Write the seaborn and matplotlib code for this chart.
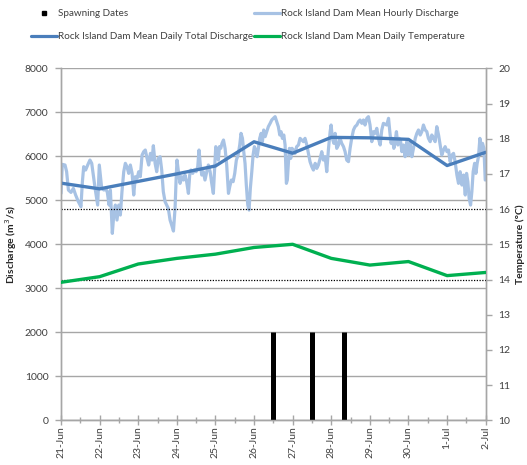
import numpy as np
import pandas as pd
import matplotlib
matplotlib.use("Agg")
import matplotlib.pyplot as plt
from matplotlib.lines import Line2D
from matplotlib.ticker import MultipleLocator
import seaborn as sns

sns.set_style("white")
plt.rcParams['font.family'] = ['Lato', 'DejaVu Sans']

# ---------------- data ----------------
date_labels = ["21-Jun", "22-Jun", "23-Jun", "24-Jun", "25-Jun", "26-Jun",
               "27-Jun", "28-Jun", "29-Jun", "30-Jun", "1-Jul", "2-Jul"]
daily_total_discharge = [5390, 5260, 5430, 5600, 5780, 6330,
                         6070, 6430, 6420, 6385, 5790, 6090]
daily_temperature = [13.92, 14.08, 14.44, 14.60, 14.72, 14.91,
                     15.00, 14.60, 14.41, 14.51, 14.11, 14.20]
spawning_days = [5.5, 6.5, 7.33]
spawning_height = [2000, 2000, 2000]
temperature_thresholds = [14, 16]

# (hour since 21-Jun 00:00, discharge m3/s)
hourly_discharge = [
    (0, 5157), (0.8, 5817), (2.5, 5802), (3.5, 5650), (4.6, 5233), (6.2, 5180),
    (7.7, 5271), (9.1, 5120), (10.8, 4968), (12.4, 4854), (13.3, 5423), (14.1, 5764),
    (15.3, 5688), (16.6, 5802), (18.0, 5915), (19.1, 5840), (20.1, 5574), (21.2, 5271),
    (22.8, 4892), (23.8, 5802), (25.3, 5271), (26.7, 5233), (27.8, 5271), (28.8, 5180),
    (29.9, 4892), (30.7, 5233), (31.9, 4248), (32.8, 4665), (33.8, 4892), (34.8, 4551),
    (35.9, 4892), (36.9, 4665), (37.9, 5196), (39.0, 5650), (40.0, 5840), (41.0, 5764),
    (42.1, 5612), (43.1, 5802), (44.2, 5612), (45.2, 5120), (46.2, 5537), (47.3, 5499),
    (48.3, 5650), (49.3, 5537), (50.4, 6029), (51.4, 6105), (52.4, 6143), (53.5, 5953),
    (54.5, 5802), (55.6, 6067), (56.6, 5915), (57.4, 6241), (58.5, 5840), (59.5, 5650),
    (60.5, 5953), (61.6, 5991), (62.6, 5688), (63.6, 5196),
    (64.7, 4968), (65.7, 4892), (66.7, 4816), (67.8, 4551), (68.8, 4437), (69.9, 4301),
    (70.9, 4816), (71.5, 5423), (72.1, 5915), (73.0, 5650), (74.0, 5385), (75.0, 5537),
    (76.1, 5461), (77.1, 5574), (78.1, 5423), (79.2, 5157), (80.0, 5574), (80.8, 5688),
    (81.9, 5612), (82.9, 5688), (84.0, 5650), (85.0, 5764), (85.8, 6143), (86.6, 5802),
    (87.5, 5574), (88.5, 5650), (89.5, 5461), (90.6, 5650), (91.6, 5802), (92.7, 5650),
    (93.7, 5385), (94.7, 5157), (95.4, 5650), (96.2, 6219), (97.2, 6105), (97.8, 5915),
    (98.5, 6219), (99.3, 6181), (100.1, 6295), (101.0, 6370), (102.0, 6181), (103.0, 5802),
    (104.1, 5157), (104.9, 5310), (105.9, 5461), (107.0, 5423), (108.0, 5612), (109.0, 5915),
    (110.1, 6029), (111.1, 6257), (111.9, 6522), (112.8, 6408), (113.6, 6105), (114.4, 5840),
    (115.2, 5347), (116.1, 4892), (116.9, 4778), (117.7, 5271), (118.6, 5650), (119.4, 6029),
    (120.2, 6219), (121.1, 6143), (121.9, 5991), (122.7, 6181), (123.5, 6408), (124.4, 6522),
    (125.2, 6333), (126.0, 6598), (126.9, 6446), (127.9, 6560), (128.9, 6674), (130.0, 6749),
    (131.0, 6825), (132.0, 6863),
    (133.1, 6901), (134.1, 6787), (135.1, 6674), (136.0, 6484), (136.8, 6560), (137.6, 6408),
    (138.5, 6484), (139.3, 6257), (140.1, 5385), (140.7, 5461), (141.4, 5878), (142.0, 6181),
    (142.8, 5953), (143.6, 6181), (144.5, 6143), (145.5, 6067), (146.5, 6219), (147.6, 6257),
    (148.6, 6408), (149.7, 6370), (150.7, 6333), (151.7, 6408), (152.8, 6257), (153.8, 6067),
    (154.8, 5878), (155.9, 5764), (156.9, 5688), (158.0, 5840), (159.0, 5726), (160.0, 5802),
    (161.1, 5953), (162.1, 6105), (163.1, 5915), (164.2, 5991), (165.2, 5650), (166.2, 6143),
    (167.3, 6560), (167.9, 6711), (168.7, 6408), (169.6, 6295), (170.4, 6522), (171.4, 6181),
    (172.5, 6257), (173.5, 6408), (174.5, 6295), (175.6, 6219), (176.6, 6105), (177.6, 5915),
    (178.7, 5878), (179.7, 6181), (180.7, 6408), (181.8, 6598), (182.8, 6674), (183.9, 6711),
    (184.9, 6787), (185.9, 6825), (187.0, 6749), (188.0, 6825), (189.0, 6711), (190.1, 6863),
    (191.1, 6901), (192.1, 6711), (193.2, 6333), (194.2, 6560), (195.3, 6522), (196.3, 6636),
    (197.3, 6408), (198.4, 6257), (199.4, 6598), (200.4, 6749),
    (202.5, 6711), (203.6, 6863), (204.4, 6560), (205.2, 6295), (206.1, 6408), (206.9, 6181),
    (207.7, 6333), (208.5, 6560), (209.4, 6257), (210.2, 6408), (211.0, 6370), (211.9, 6105),
    (212.9, 6257), (213.9, 5991), (215.0, 6333), (216.0, 6029), (217.0, 6295), (218.1, 5991),
    (219.1, 6181), (220.2, 6408), (221.2, 6522), (222.2, 6598), (223.3, 6484), (224.3, 6560),
    (225.3, 6711), (226.4, 6598), (227.4, 6560), (228.4, 6408), (229.5, 6333), (230.5, 6484),
    (231.6, 6408), (232.6, 6333), (233.6, 6674), (234.7, 6484), (235.7, 6257), (236.7, 6029),
    (237.8, 6143), (238.8, 6219), (239.9, 6105), (240.9, 6143), (241.9, 5878), (243.0, 6029),
    (244.0, 6067), (245.0, 5878), (246.1, 5574), (247.1, 5385), (248.1, 5650), (249.2, 5347),
    (250.2, 5574), (251.3, 5120), (252.1, 5612), (252.9, 5423), (253.7, 5044), (254.6, 4892),
    (255.4, 5196), (256.2, 5650), (257.1, 5840), (257.9, 5612), (258.7, 5840), (259.5, 5991),
    (260.4, 6408), (261.2, 6105), (262.0, 6295), (262.9, 6181), (263.7, 5461),
]

# ---------------- frames ----------------
hourly_df = pd.DataFrame(hourly_discharge, columns=["hour", "discharge"])
hourly_df["day"] = hourly_df["hour"] / 24.0
daily_df = pd.DataFrame({"day": np.arange(len(date_labels)),
                         "discharge": daily_total_discharge,
                         "temp": daily_temperature})

C_LIGHT = "#A7C2E4"
C_DARK = "#4A7EBB"
C_GREEN = "#00B050"
C_GRID = "#A6A6A6"
C_TEXT = "#404040"

fig = plt.figure(figsize=(5.27, 4.65), dpi=100)
ax = fig.add_axes([61 / 527, 1 - 420.3 / 465, (485.7 - 61) / 527, 352 / 465])

ax.set_xlim(0, len(date_labels) - 1)
ax.set_ylim(0, 8000)
ax.yaxis.set_major_locator(MultipleLocator(1000))
ax.grid(axis="y", color=C_GRID, lw=1.0)
ax.set_axisbelow(True)

sns.lineplot(data=hourly_df, x="day", y="discharge", ax=ax, color=C_LIGHT,
             lw=2.3, sort=False, zorder=2)
sns.lineplot(data=daily_df, x="day", y="discharge", ax=ax, color=C_DARK,
             lw=2.4, zorder=3)
ax.vlines(spawning_days, 0, spawning_height, color="black", lw=3.6, zorder=4)

ax2 = ax.twinx()
ax2.set_ylim(10, 20)
ax2.yaxis.set_major_locator(MultipleLocator(1))
for t in temperature_thresholds:
    ax2.axhline(t, color="black", lw=0.9, ls=(0, (1, 1.2)), zorder=1)
sns.lineplot(data=daily_df, x="day", y="temp", ax=ax2, color=C_GREEN, lw=2.4, zorder=3)

# ---------------- axes styling ----------------
for a in (ax, ax2):
    a.spines["top"].set_visible(False)
    for s in ("left", "right", "bottom"):
        a.spines[s].set_color(C_GRID)
        a.spines[s].set_linewidth(1.0)

ax.set_xticks(np.arange(len(date_labels)))
ax.set_xticklabels(date_labels, rotation=90, fontsize=7.5, color=C_TEXT)
ax.xaxis.set_minor_locator(MultipleLocator(0.5))
ax.tick_params(axis="x", which="major", direction="inout", length=7, width=1,
               color=C_GRID, pad=1, bottom=True)
ax.tick_params(axis="x", which="minor", direction="inout", length=4, width=1,
               color=C_GRID, bottom=True)
ax.tick_params(axis="y", direction="out", length=4, width=1, color=C_GRID,
               labelsize=7.5, labelcolor=C_TEXT, pad=5, left=True)
ax2.tick_params(axis="y", direction="out", length=4, width=1, color=C_GRID,
                labelsize=7.5, labelcolor=C_TEXT, pad=5, right=True)

ax.set_xlabel("")
ax.set_ylabel("Discharge (m$^3$/s)", fontsize=7.5, fontweight="bold", labelpad=4)
ax2.set_ylabel("Temperature (°C)", fontsize=7.5, fontweight="bold", labelpad=4)

# ---------------- legend ----------------
handles = [
    Line2D([], [], marker="s", ls="none", color="black", markersize=3.5),
    Line2D([], [], color=C_DARK, lw=2.3),
    Line2D([], [], color=C_LIGHT, lw=2.3),
    Line2D([], [], color=C_GREEN, lw=2.3),
]
labels = ["Spawning Dates",
          "Rock Island Dam Mean Daily Total Discharge",
          "Rock Island Dam Mean Hourly Discharge",
          "Rock Island Dam Mean Daily Temperature"]
fig.legend(handles, labels, loc="upper left", bbox_to_anchor=(31 / 527, 1 - 9 / 465),
           ncol=2, frameon=False, fontsize=7.1, handlelength=2.6, handletextpad=0.12,
           columnspacing=0.12, labelspacing=1.45, borderaxespad=0, borderpad=0,
           labelcolor=C_TEXT)

fig.savefig("out.png", dpi=100)
